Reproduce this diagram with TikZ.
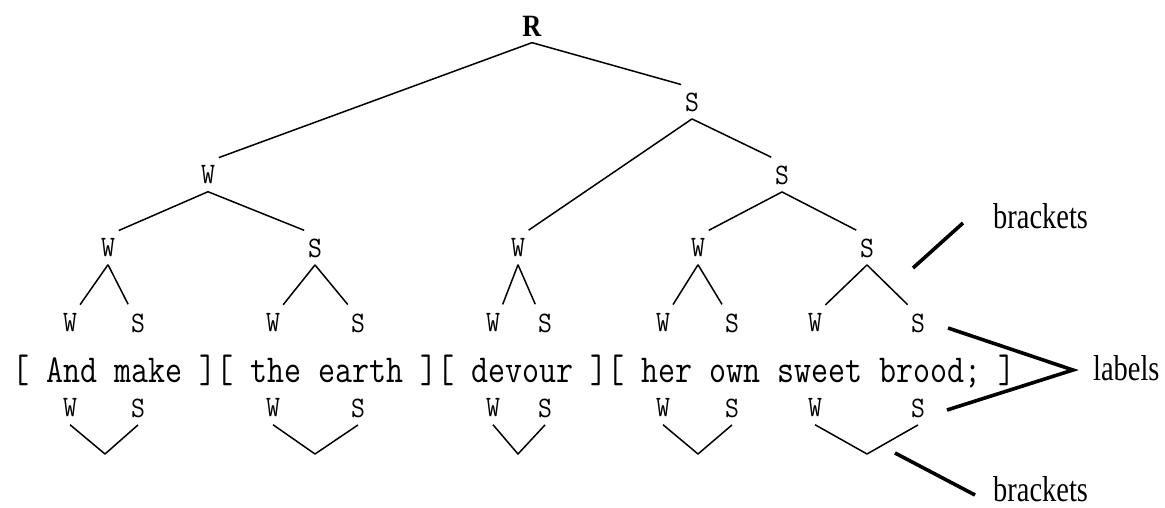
\documentclass[tikz,border=0pt]{standalone}
\usepackage{fontspec}
\newfontfamily\seriffont{Liberation Serif}
\newcommand\lw[1]{\scalebox{1}[1.1]{#1}}
\begin{document}
\begin{tikzpicture}[x=1pt,y=-1pt,
  lab/.style={inner xsep=2pt, inner ysep=7.5pt, outer sep=0pt, font=\fontsize{27}{27}\selectfont\ttfamily},
  rootlab/.style={inner xsep=2pt, inner ysep=6.5pt, outer sep=0pt, font=\fontsize{31}{31}\selectfont\seriffont\bfseries},
  tree/.style={line width=1.5pt, shorten >=2pt, line join=round},
  ann/.style={line width=3.6pt, line join=miter},
  note/.style={inner sep=0pt, font=\fontsize{36}{36}\selectfont\seriffont}
]
\useasboundingbox (0,0) rectangle (1165,507);
\fill[white] (0,0) rectangle (1165,507);

% tree nodes
\node[rootlab] (R) at (532,26) {\scalebox{0.85}[1]{R}};
\node[lab] (W1) at (208,175) {\lw{W}};
\node[lab] (S1) at (692,102) {\lw{S}};
\node[lab] (S2) at (782,175) {\lw{S}};
\node[lab] (W11) at (108,248) {\lw{W}};
\node[lab] (S12) at (315,248) {\lw{S}};
\node[lab] (W21) at (518,248) {\lw{W}};
\node[lab] (W22) at (698,248) {\lw{W}};
\node[lab] (S23) at (867,248) {\lw{S}};

% upper syllable labels
\node[lab] (a1w) at (70,323) {\lw{W}};
\node[lab] (a1s) at (138,323) {\lw{S}};
\node[lab] (a2w) at (273,323) {\lw{W}};
\node[lab] (a2s) at (358,323) {\lw{S}};
\node[lab] (a3w) at (493,323) {\lw{W}};
\node[lab] (a3s) at (545,323) {\lw{S}};
\node[lab] (a4w) at (663,323) {\lw{W}};
\node[lab] (a4s) at (732,323) {\lw{S}};
\node[lab] (a5w) at (815,323) {\lw{W}};
\node[lab] (a5s) at (918,323) {\lw{S}};

% verse line
\node[anchor=base west, inner sep=0pt, font=\fontsize{33}{35}\selectfont\ttfamily] (verse) at (12.5,382)
  {\scalebox{1}[1.2]{[ And make ][ the earth ][ devour ][ her own sweet brood; ]}};

% lower syllable labels
\node[lab] (b1w) at (70,408) {\lw{W}};
\node[lab] (b1s) at (138,408) {\lw{S}};
\node[lab] (b2w) at (273,408) {\lw{W}};
\node[lab] (b2s) at (358,408) {\lw{S}};
\node[lab] (b3w) at (493,408) {\lw{W}};
\node[lab] (b3s) at (545,408) {\lw{S}};
\node[lab] (b4w) at (663,408) {\lw{W}};
\node[lab] (b4s) at (732,408) {\lw{S}};
\node[lab] (b5w) at (815,408) {\lw{W}};
\node[lab] (b5s) at (918,408) {\lw{S}};

\coordinate (v1) at (105,454);
\coordinate (v2) at (315,454);
\coordinate (v3) at (518,454);
\coordinate (v4) at (698,454);
\coordinate (v5) at (867,454);

% tree connectors
\draw[tree] (R.south) -- (W1.north east);
\draw[tree] (R.south) -- (S1.north west);
\draw[tree] (S1.south) -- (W21.north east);
\draw[tree] (S1.south) -- (S2.north west);
\draw[tree] (W1.south) -- (W11.north east);
\draw[tree] (W1.south) -- (S12.north west);
\draw[tree] (S2.south) -- (W22.north east);
\draw[tree] (S2.south) -- (S23.north west);

\draw[tree] (W11.south) -- (a1w.north east);
\draw[tree] (W11.south) -- (a1s.north west);
\draw[tree] (S12.south) -- (a2w.north east);
\draw[tree] (S12.south) -- (a2s.north west);
\draw[tree] (W21.south) -- (a3w.north east);
\draw[tree] (W21.south) -- (a3s.north west);
\draw[tree] (W22.south) -- (a4w.north east);
\draw[tree] (W22.south) -- (a4s.north west);
\draw[tree] (S23.south) -- (a5w.north east);
\draw[tree] (S23.south) -- (a5s.north west);

% lower brackets
\draw[tree, shorten >=0pt] (b1w.south) -- (v1) -- (b1s.south);
\draw[tree, shorten >=0pt] (b2w.south) -- (v2) -- (b2s.south);
\draw[tree, shorten >=0pt] (b3w.south) -- (v3) -- (b3s.south);
\draw[tree, shorten >=0pt] (b4w.south) -- (v4) -- (b4s.south);
\draw[tree, shorten >=0pt] (b5w.south) -- (v5) -- (b5s.south);

% annotations
\node[note, anchor=base west] (brk1) at (993,228) {\scalebox{0.79}[1]{brackets}};
\node[note, anchor=base west] (lbl) at (1093,380) {\scalebox{0.79}[1]{labels}};
\node[note, anchor=base west] (brk2) at (993,501) {\scalebox{0.79}[1]{brackets}};

\coordinate (p1) at (913,268);
\coordinate (p2) at (963,223);
\coordinate (q1) at (948,328);
\coordinate (q2) at (1073,370);
\coordinate (q3) at (947,410);
\coordinate (r1) at (895,453);
\coordinate (r2) at (975,495);
\draw[ann] (p1) -- (p2);
\draw[ann] (q1) -- (q2) -- (q3);
\draw[ann] (r1) -- (r2);
\end{tikzpicture}
\end{document}
